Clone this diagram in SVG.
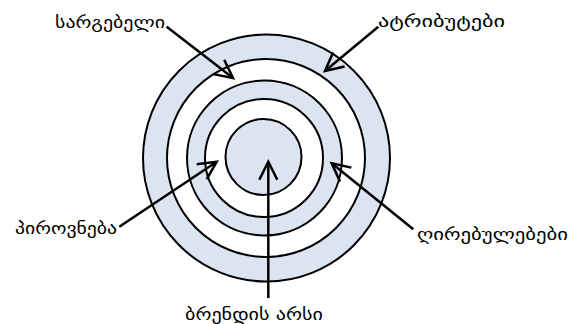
<svg xmlns="http://www.w3.org/2000/svg" width="585" height="324" viewBox="0 0 585 324">
<defs>
<style>
.ring{stroke:#000;stroke-width:2}
.blue{fill:#dbe4f0}
.white{fill:#fff}
.conn{stroke:#000;stroke-width:2.5;fill:none;marker-end:url(#arr)}
.lbl{font-family:"DejaVu Sans","Noto Sans",sans-serif;font-size:16px;fill:#000}
</style>
<marker id="arr" markerUnits="userSpaceOnUse" markerWidth="24" markerHeight="24" viewBox="-20 -12 24 24" refX="0" refY="0" orient="auto">
<path d="M-18,-9 L0,0 L-18,9" fill="none" stroke="#000" stroke-width="2.5"/>
</marker>
</defs>
<rect width="585" height="324" fill="#fff"/>
<g id="rings">
<circle id="ring1" class="ring blue" cx="266.5" cy="158" r="123.5"/>
<circle id="ring2" class="ring white" cx="266" cy="158" r="99"/>
<circle id="ring3" class="ring blue" cx="264.5" cy="158" r="77.5"/>
<circle id="ring4" class="ring white" cx="264" cy="158" r="59"/>
<circle id="ring5" class="ring blue" cx="263.5" cy="157" r="38"/>
</g>
<g id="connectors">
<line class="conn" x1="166.7" y1="26.7" x2="233" y2="78"/>
<line class="conn" x1="378.3" y1="26.7" x2="325" y2="71"/>
<line class="conn" x1="119.3" y1="226.7" x2="216.7" y2="161.7"/>
<line class="conn" x1="413.3" y1="229.3" x2="331.7" y2="163.3"/>
<line class="conn" x1="268.3" y1="298" x2="268.3" y2="161.7"/>
</g>
<g id="label-sargebeli"><text class="lbl" x="55" y="28" textLength="110" lengthAdjust="spacingAndGlyphs">სარგებელი</text></g>
<g id="label-atributebi"><text class="lbl" x="378" y="27" textLength="127" lengthAdjust="spacingAndGlyphs">ატრიბუტები</text></g>
<g id="label-pirovneba"><text class="lbl" x="15" y="234" textLength="102" lengthAdjust="spacingAndGlyphs">პიროვნება</text></g>
<g id="label-ghirebulebebi"><text class="lbl" x="417" y="240" textLength="151" lengthAdjust="spacingAndGlyphs">ღირებულებები</text></g>
<g id="label-brendis-arsi"><text class="lbl" x="185" y="320" textLength="138" lengthAdjust="spacingAndGlyphs">ბრენდის არსი</text></g>
</svg>
